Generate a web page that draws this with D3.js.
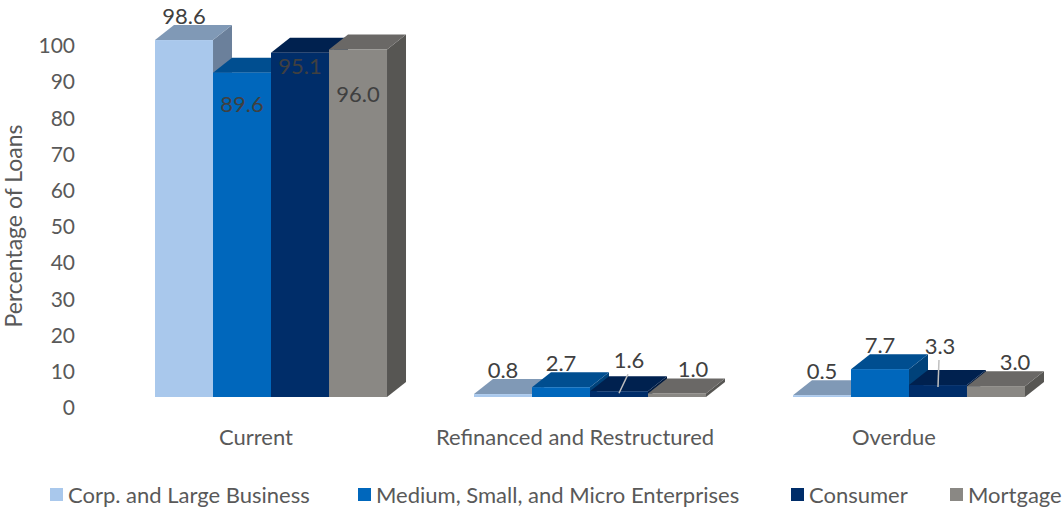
<!DOCTYPE html>
<html>
<head>
<meta charset="utf-8">
<script src="https://cdn.jsdelivr.net/npm/d3@7"></script>
<style>
  html, body { margin: 0; padding: 0; background: #ffffff; }
  svg { display: block; font-family: Lato, "Open Sans", sans-serif; }
</style>
</head>
<body>
<svg id="chart" width="1062" height="508"></svg>
<script>
// ---------------- data ----------------
const categories = ["Current", "Refinanced and Restructured", "Overdue"];
const seriesNames = ["Corp. and Large Business", "Medium, Small, and Micro Enterprises", "Consumer", "Mortgage"];
const corpLarge = [98.6, 0.8, 0.5];
const mediumSmallMicro = [89.6, 2.7, 7.7];
const consumer = [95.1, 1.6, 3.3];
const mortgage = [96.0, 1.0, 3.0];
const yTicks = [0, 10, 20, 30, 40, 50, 60, 70, 80, 90, 100];
const yTitle = "Percentage of Loans";

// ---------------- layout / style ----------------
const seriesValues = [corpLarge, mediumSmallMicro, consumer, mortgage];
const frontColors = ["#A9C8EC", "#0067BC", "#002D69", "#8A8884"];
const topColors   = ["#8099B6", "#004E90", "#00214F", "#6A6866"];
const sideColors  = ["#6B809B", "#00427A", "#001A40", "#575653"];
const depth = { dx: 19, dy: -15 };
// data-label nudges [dx, dy] relative to default position (series x category)
const labelNudge = [
  [[0, 0], [0, 0], [0, 0]],
  [[0, 56], [0, 0], [0, 0]],
  [[0, 38], [10, -7], [2, -15]],
  [[0, 69], [16, 0], [19, 0]]
];
const leaderLines = { "2-1": true, "2-2": true };
const legendX = [50, 358, 791, 950];

const svg = d3.select("#chart");

const x0 = d3.scaleBand()
  .domain(categories)
  .range([111.5, 1068.5])
  .paddingInner(0.2727)
  .paddingOuter(0.1364);

const x1 = d3.scaleBand()
  .domain(d3.range(seriesNames.length))
  .range([0, x0.bandwidth()])
  .padding(0);

const y = d3.scaleLinear().domain([0, 100]).range([397, 35]);

// ---------------- y axis (labels only) ----------------
const yAxis = d3.axisLeft(y).tickValues(yTicks).tickSize(0).tickPadding(0).tickFormat(d3.format("d"));
const gy = svg.append("g").attr("transform", "translate(75,11)").call(yAxis);
gy.select(".domain").remove();
gy.selectAll("text").attr("fill", "#595959").style("font-size", "21px").style("font-family", "Lato, sans-serif");

svg.append("text")
  .attr("transform", "translate(22,226) rotate(-90)")
  .attr("text-anchor", "middle")
  .attr("fill", "#595959")
  .style("font-size", "23px")
  .text(yTitle);

// ---------------- category labels ----------------
svg.append("g").selectAll("text")
  .data(categories)
  .join("text")
  .attr("x", d => x0(d) + x0.bandwidth() / 2 - 15)
  .attr("y", 445)
  .attr("text-anchor", "middle")
  .attr("fill", "#595959")
  .style("font-size", "22px")
  .text(d => d);

// ---------------- 3D bars ----------------
const bars = [];
categories.forEach((c, ci) => {
  seriesValues.forEach((vals, si) => {
    bars.push({ c, ci, si, v: vals[ci] });
  });
});

const gb = svg.append("g");
bars.forEach(b => {
  const xl = x0(b.c) + x1(b.si);
  const xr = xl + x1.bandwidth();
  const yt = y(b.v);
  const yb = y(0);
  const g = gb.append("g");
  g.append("path")
    .attr("d", `M${xr},${yb} L${xr + depth.dx},${yb + depth.dy} L${xr + depth.dx},${yt + depth.dy} L${xr},${yt} Z`)
    .attr("fill", sideColors[b.si]);
  g.append("path")
    .attr("d", `M${xl},${yt} L${xl + depth.dx},${yt + depth.dy} L${xr + depth.dx},${yt + depth.dy} L${xr},${yt} Z`)
    .attr("fill", topColors[b.si]);
  g.append("rect")
    .attr("x", xl).attr("y", yt)
    .attr("width", xr - xl).attr("height", Math.max(0, yb - yt))
    .attr("fill", frontColors[b.si]);
});

// ---------------- data labels ----------------
const gl = svg.append("g");
bars.forEach(b => {
  const cx = x0(b.c) + x1(b.si) + x1.bandwidth() / 2;
  const cyVal = y(b.v);
  const [ndx, ndy] = labelNudge[b.si][b.ci];
  const lx = cx + ndx;
  const ly = cyVal - 24 + ndy;
  if (leaderLines[`${b.si}-${b.ci}`]) {
    gl.append("line")
      .attr("x1", lx - 1).attr("y1", ly + 14)
      .attr("x2", cx).attr("y2", cyVal + 2)
      .attr("stroke", "#BFBFBF").attr("stroke-width", 1.5);
  }
  gl.append("text")
    .attr("x", lx).attr("y", ly)
    .attr("dy", "0.35em")
    .attr("text-anchor", "middle")
    .attr("fill", "#404040")
    .style("font-size", "22px")
    .text(d3.format(".1f")(b.v));
});

// ---------------- legend ----------------
const lg = svg.append("g");
seriesNames.forEach((name, i) => {
  lg.append("rect")
    .attr("x", legendX[i]).attr("y", 488)
    .attr("width", 13).attr("height", 13)
    .attr("fill", frontColors[i]);
  lg.append("text")
    .attr("x", legendX[i] + 18).attr("y", 495)
    .attr("dy", "0.35em")
    .attr("fill", "#595959")
    .style("font-size", "22px")
    .text(name);
});
</script>
</body>
</html>
